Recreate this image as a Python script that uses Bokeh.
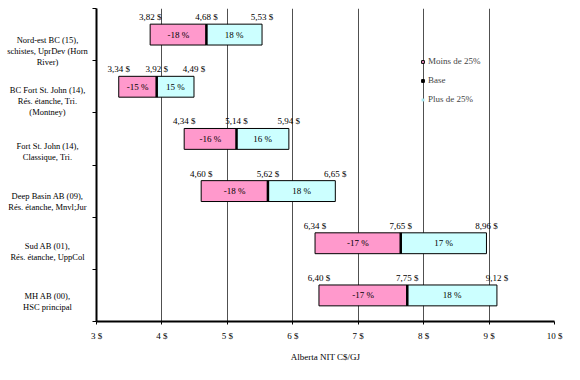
from bokeh.plotting import figure
from bokeh.layouts import row
from bokeh.models import ColumnDataSource, FixedTicker, Legend, LegendItem, Range1d
from bokeh.core.properties import value
from bokeh.embed import file_html
from bokeh.resources import INLINE

# ---- data (top to bottom) ----
categories = [
    "Nord-est BC (15),\nschistes, UprDev (Horn\nRiver)",
    "BC Fort St. John (14),\nRés. étanche, Tri.\n(Montney)",
    "Fort St. John (14),\nClassique, Tri.",
    "Deep Basin AB (09),\nRés. étanche, Mnvl;Jur",
    "Sud AB (01),\nRés. étanche, UppCol",
    "MH AB (00),\nHSC principal",
]
low = [3.82, 3.34, 4.34, 4.60, 6.34, 6.40]
base = [4.68, 3.92, 5.14, 5.62, 7.65, 7.75]
high = [5.53, 4.49, 5.94, 6.65, 8.96, 9.12]
low_pct = [-18, -15, -16, -18, -17, -17]
high_pct = [18, 15, 16, 18, 17, 18]
x_ticks = [3, 4, 5, 6, 7, 8, 9, 10]
legend_labels = ["Moins de 25%", "Base", "Plus de 25%"]
x_title = "Alberta NIT C$/GJ"

FONT = "Liberation Serif"
PINK = "#FF99CC"
CYAN = "#CCFFFF"
BAR_H = 0.4
W, H = 564, 364
LABEL_W = 90
TOP, BOTTOM = 8, 40
LAB_BOTTOM = 26          # label panel extends lower than the chart frame

n = len(categories)
ypos = [n - 1 - i + 0.5 for i in range(n)]

def money(v):
    return f"{v:.2f}".replace(".", ",") + " $"

src = ColumnDataSource(dict(
    y=ypos, low=low, base=base, high=high,
    ybot=[y - BAR_H / 2 for y in ypos],
    ytop=[y + BAR_H / 2 for y in ypos],
    ylab=[y + BAR_H / 2 + 0.04 for y in ypos],
    xlow_mid=[(a + b) / 2 for a, b in zip(low, base)],
    xhigh_mid=[(a + b) / 2 for a, b in zip(base, high)],
    low_txt=[f"{v} %" for v in low_pct],
    high_txt=[f"{v} %" for v in high_pct],
    low_val=[money(v) for v in low],
    base_val=[money(v) for v in base],
    high_val=[money(v) for v in high],
))

# ---- left panel with category labels (same vertical scale as the chart) ----
px_per_unit = (H - TOP - BOTTOM) / n
lab_yr = Range1d(-(BOTTOM - LAB_BOTTOM) / px_per_unit, n)
lab = figure(width=LABEL_W, height=H, output_backend="svg", toolbar_location=None,
             x_range=Range1d(0, LABEL_W), y_range=lab_yr,
             x_axis_location=None, y_axis_location=None,
             min_border_left=0, min_border_right=0, min_border_top=TOP, min_border_bottom=LAB_BOTTOM)
lab.outline_line_color = None
lab.grid.grid_line_color = None
cat_src = ColumnDataSource(dict(x=[47] * n, y=[y - 0.36 for y in ypos], text=categories))
lab.text(x="x", y="y", text="text", source=cat_src, text_align="center", text_baseline="middle",
         text_font=value(FONT), text_font_size="8.5px", text_color="black", text_line_height=1.1)

# ---- main chart ----
p = figure(width=W - LABEL_W, height=H, output_backend="svg", toolbar_location=None,
           x_range=Range1d(x_ticks[0], x_ticks[-1]), y_range=Range1d(0, n),
           min_border_left=6, min_border_right=10, min_border_top=TOP, min_border_bottom=BOTTOM)
p.outline_line_color = None
p.background_fill_color = "white"

p.ygrid.grid_line_color = None
p.xgrid.ticker = FixedTicker(ticks=x_ticks)
p.xgrid.grid_line_color = "#505050"
p.xgrid.grid_line_width = 1

p.hbar(y="y", left="low", right="base", height=BAR_H, source=src,
       fill_color=PINK, line_color="black", line_width=1)
p.hbar(y="y", left="base", right="high", height=BAR_H, source=src,
       fill_color=CYAN, line_color="black", line_width=1)
p.segment(x0="base", x1="base", y0="ybot", y1="ytop", source=src,
          line_color="black", line_width=2.5)

for col, xcol in (("low_txt", "xlow_mid"), ("high_txt", "xhigh_mid")):
    p.text(x=xcol, y="y", text=col, source=src, text_align="center", text_baseline="middle",
           text_font=value(FONT), text_font_size="9px", text_color="black")

for col, xcol in (("low_val", "low"), ("base_val", "base"), ("high_val", "high")):
    p.text(x=xcol, y="ylab", text=col, source=src, text_align="center", text_baseline="bottom",
           text_font=value(FONT), text_font_size="9px", text_color="black")

p.xaxis.ticker = FixedTicker(ticks=x_ticks)
p.xaxis.major_label_overrides = {t: f"{t} $" for t in x_ticks}
p.xaxis.minor_tick_line_color = None
p.xaxis.major_tick_in = 0
p.xaxis.major_tick_out = 3
p.xaxis.axis_line_width = 2
p.xaxis.axis_line_color = "black"
p.xaxis.major_tick_line_color = "black"
p.xaxis.major_label_text_font = FONT
p.xaxis.major_label_text_font_size = "9px"
p.xaxis.major_label_text_color = "black"
p.xaxis.major_label_standoff = 6
p.xaxis.axis_label = x_title
p.xaxis.axis_label_text_font = FONT
p.xaxis.axis_label_text_font_size = "9px"
p.xaxis.axis_label_text_font_style = "normal"
p.xaxis.axis_label_text_color = "black"
p.xaxis.axis_label_standoff = 8

p.yaxis.ticker = FixedTicker(ticks=list(range(n + 1)))
p.yaxis.major_label_overrides = {i: "" for i in range(n + 1)}
p.yaxis.major_label_standoff = 0
p.yaxis.minor_tick_line_color = None
p.yaxis.major_tick_in = 0
p.yaxis.major_tick_out = 4
p.yaxis.major_tick_line_color = "black"
p.yaxis.axis_line_width = 2
p.yaxis.axis_line_color = "black"

far = [x_ticks[0] - 100]
r1 = p.scatter(x=far, y=[0], marker="square", size=7, fill_color=PINK, line_color="black")
r2 = p.scatter(x=far, y=[0], marker="square", size=7, fill_color="black", line_color="black")
r3 = p.scatter(x=far, y=[0], marker="square", size=3, fill_color="#A8E8F0", line_color=None)
legend = Legend(items=[LegendItem(label=legend_labels[0], renderers=[r1]),
                       LegendItem(label=legend_labels[1], renderers=[r2]),
                       LegendItem(label=legend_labels[2], renderers=[r3])],
                location=(323, 217), border_line_color=None, background_fill_alpha=0,
                label_text_font=FONT, label_text_font_size="9px",
                glyph_width=7, glyph_height=7, label_height=8, spacing=9,
                padding=0, margin=0, label_standoff=2)
p.add_layout(legend)

layout = row(lab, p, spacing=0)
open("out.html", "w").write(file_html(layout, INLINE))
